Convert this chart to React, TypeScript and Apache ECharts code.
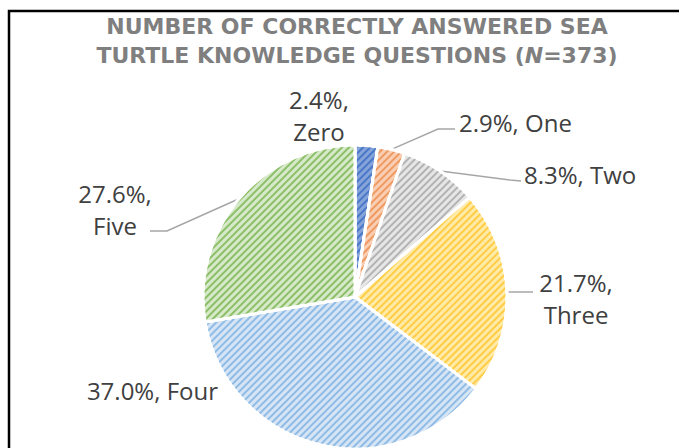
import React, { useEffect, useRef } from "react";
import * as echarts from "echarts";

const categories = ["Zero", "One", "Two", "Three", "Four", "Five"];
const percents = [2.4, 2.9, 8.3, 21.7, 37.0, 27.6];
const twoLineLabel = [true, false, false, true, false, true];
const titleLine1 = "NUMBER OF CORRECTLY ANSWERED SEA";
const titleLine2 = "TURTLE KNOWLEDGE QUESTIONS ({i|N}=373)";

const stripeColors = ["#4a78c8", "#ee9a62", "#b3b3b3", "#ffcd45", "#8fbbe5", "#8cbf68"];
const tintColors = ["#86a3da", "#f9ceb2", "#e6e6e6", "#ffeaa8", "#d5e5f5", "#d6e9c9"];

// label placement (style, not data)
const labelPos: any[] = [
  { x: 319, y: 115, align: "center", line: null },
  { x: 459, y: 122, align: "left", line: [[438, 129], [455, 129]] },
  { x: 524, y: 174, align: "left", line: [[510, 180], [521, 181]] },
  { x: 576, y: 298, align: "center", line: [[518, 292], [533, 292]] },
  { x: 218, y: 390, align: "right", line: null },
  { x: 115, y: 209, align: "center", line: [[167, 231], [150, 231]] },
];

export default function App() {
  const ref = useRef<HTMLDivElement>(null);
  useEffect(() => {
    if (!ref.current) return;
    const chart = echarts.init(ref.current, undefined, { renderer: "svg" });
    const data = categories.map((name, i) => ({
      name,
      value: percents[i],
      itemStyle: {
        color: tintColors[i],
        decal: {
          symbol: "rect",
          symbolSize: 1,
          dashArrayX: [1, 0],
          dashArrayY: [1.8, 2.2],
          rotation: -Math.PI / 4,
          color: stripeColors[i],
        },
      },
      labelLine: { show: !!labelPos[i].line },
    }));
    chart.setOption({
      animation: false,
      backgroundColor: "#ffffff",
      graphic: [
        {
          type: "rect",
          shape: { x: 9, y: 11, width: 900, height: 700 },
          style: { fill: "none", stroke: "#000000", lineWidth: 2.5 },
          silent: true,
        },
        {
          type: "text",
          x: 357,
          y: 26,
          style: {
            text: titleLine1,
            fill: "#7f7f7f",
            font: "bold 22px 'DejaVu Sans'",
            align: "center",
            verticalAlign: "middle",
          },
        },
        {
          type: "text",
          x: 357,
          y: 55,
          style: {
            text: titleLine2,
            fill: "#7f7f7f",
            font: "bold 22px 'DejaVu Sans'",
            align: "center",
            verticalAlign: "middle",
            rich: {
              i: {
                fontStyle: "italic",
                fontWeight: "bold",
                fontSize: 22,
                fontFamily: "DejaVu Sans",
                fill: "#7f7f7f",
              },
            },
          },
        },
      ],
      series: [
        {
          type: "pie",
          center: [355, 297],
          radius: 152,
          startAngle: 90,
          clockwise: true,
          avoidLabelOverlap: false,
          itemStyle: { borderColor: "#ffffff", borderWidth: 3 },
          label: {
            show: true,
            position: "outside",
            color: "#404040",
            fontFamily: "Open Sans",
            fontSize: 24,
            lineHeight: 32,
            formatter: (p: any) =>
              `${p.value.toFixed(1)}%,${twoLineLabel[p.dataIndex] ? "\n" : " "}${p.name}`,
          },
          labelLine: {
            show: true,
            length: 20,
            length2: 15,
            lineStyle: { color: "#a6a6a6", width: 1.5 },
          },
          labelLayout: (params: any) => {
            const lp = labelPos[params.dataIndex];
            const out: any = {
              x: lp.x,
              y: lp.y,
              align: lp.align,
              verticalAlign: "middle",
            };
            if (lp.line && params.labelLinePoints) {
              out.labelLinePoints = [params.labelLinePoints[0], lp.line[0], lp.line[1]];
            }
            return out;
          },
          data,
        },
      ],
    });
    return () => chart.dispose();
  }, []);
  return (
    <div
      ref={ref}
      style={{ position: "fixed", left: 0, top: 0, width: 679, height: 448 }}
    />
  );
}
